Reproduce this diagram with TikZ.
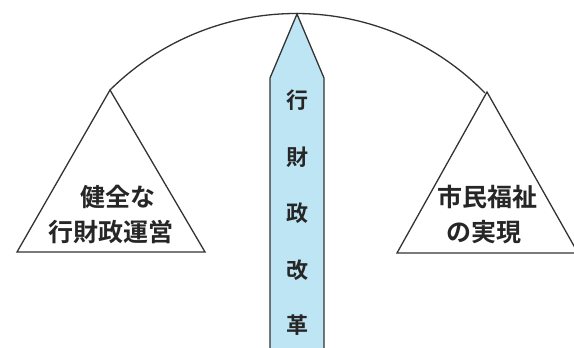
\documentclass[tikz,border=0pt]{standalone}
\usepackage{fontspec}
\newfontfamily\jp{Noto Sans CJK JP}[BoldFont={Noto Sans CJK JP Bold}]
\begin{document}
\begin{tikzpicture}[x=1pt,y=-1pt,
  ln/.style={draw=black!80,line width=1.3pt},
  lbl/.style={font=\jp\bfseries\fontsize{25}{28}\selectfont,text=black!85,inner sep=0pt},
  plbl/.style={font=\jp\bfseries\fontsize{22}{24}\selectfont,text=black!85,inner sep=0pt}]
\path[use as bounding box,fill=white] (0,0) rectangle (574,348);
% arc
\coordinate (cen) at (298,277);
\coordinate (la) at (110,90);
\coordinate (ra) at (487,92);
\draw[ln] (la) arc[start angle=-134.7,end angle=-44.4,radius=264.5];
% triangles
\coordinate (lb1) at (17,252);
\coordinate (lb2) at (205,252);
\coordinate (rb1) at (397,253);
\coordinate (rb2) at (578,253);
\draw[ln] (lb1) -- (la) -- (lb2) -- cycle;
\draw[ln] (rb1) -- (ra) -- (rb2) -- cycle;
% pillar
\coordinate (tip) at (297,14);
\draw[ln,fill={rgb,255:red,190;green,229;blue,244}] (270,352) -- (270,78) -- (tip) -- (324,78) -- (324,352);
\foreach \c/\y [count=\i] in {行/100,財/157,政/213,改/270,革/325}
  \node[plbl] (p\i) at (297,\y) {\c};
\node[lbl] (l1) at (118,197) {健全な};
\node[lbl] (l2) at (111,232) {行財政運営};
\node[lbl] (r1) at (487,197) {市民福祉};
\node[lbl] (r2) at (484,232) {の実現};
\end{tikzpicture}
\end{document}
